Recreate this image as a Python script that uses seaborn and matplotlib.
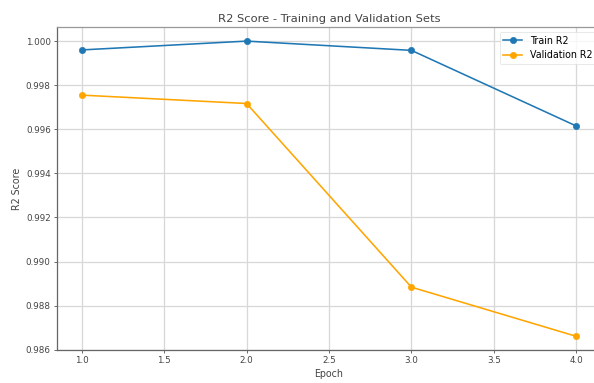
import matplotlib
matplotlib.use("Agg")
import matplotlib.pyplot as plt
import seaborn as sns
import pandas as pd

epochs = [1, 2, 3, 4]
train_r2 = [0.99960, 1.00000, 0.99958, 0.99615]
val_r2 = [0.99755, 0.99717, 0.98884, 0.98661]
series_names = ["Train R2", "Validation R2"]
series_colors = ["#1f77b4", "orange"]
x_ticks = [1.0, 1.5, 2.0, 2.5, 3.0, 3.5, 4.0]
y_ticks = [0.986, 0.988, 0.990, 0.992, 0.994, 0.996, 0.998, 1.000]

DPI = 57
fig = plt.figure(figsize=(594 / DPI, 383 / DPI), dpi=DPI)
ax = fig.add_axes([57 / 594, 1 - 350 / 383, (601 - 57) / 594, (350 - 27) / 383])

for name, vals, col in zip(series_names, [train_r2, val_r2], series_colors):
    df = pd.DataFrame({"Epoch": epochs, "R2": vals})
    sns.lineplot(data=df, x="Epoch", y="R2", marker="o", color=col,
                 markeredgecolor=col, label=name, ax=ax, linewidth=2.0,
                 markersize=8, zorder=3)

ax.set_xlim(0.85, 4.15)
ax.set_ylim(0.98599, 1.00064)
ax.set_yticks(y_ticks)
ax.set_yticklabels([f"{v:.3f}" for v in y_ticks])
ax.set_xticks(x_ticks)
ax.set_xticklabels([f"{v:.1f}" for v in x_ticks])
txt = "#444444"
ax.set_title("R2 Score - Training and Validation Sets", color=txt, fontsize=14.5)
ax.set_xlabel("Epoch", color=txt, fontsize=12, labelpad=5)
ax.set_ylabel("R2 Score", color=txt, fontsize=12, labelpad=5)
ax.tick_params(colors="#666666", labelcolor=txt, labelsize=11, width=1.2, pad=4.5)
ax.grid(True, color="#d8d8d8", linewidth=1.6)
ax.set_axisbelow(True)
leg = ax.legend(loc="upper right", fontsize=12)
leg.get_frame().set_edgecolor("#dddddd")
for s in ["left", "bottom"]:
    ax.spines[s].set_color("#666666")
    ax.spines[s].set_linewidth(1.6)
for s in ["top", "right"]:
    ax.spines[s].set_color("#999999")
    ax.spines[s].set_linewidth(1.6)

fig.savefig("out.png", dpi=DPI)
